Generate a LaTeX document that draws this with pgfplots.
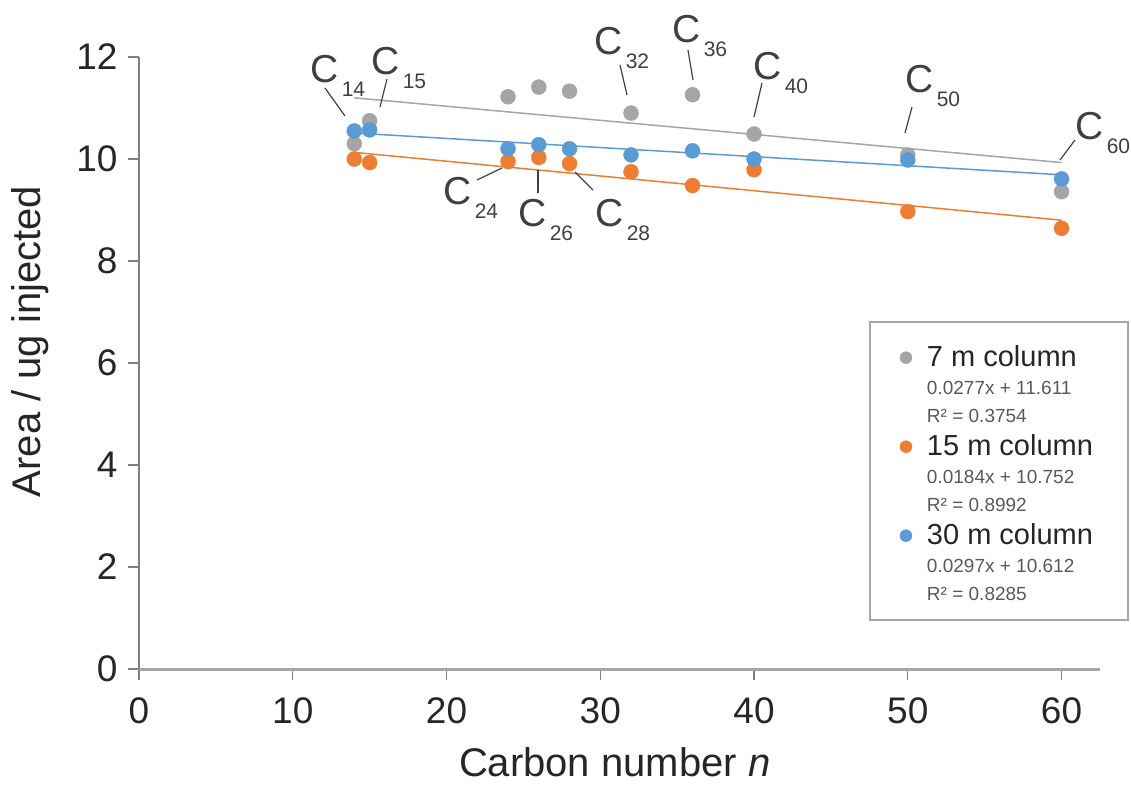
\documentclass[border=0pt]{standalone}
\usepackage{pgfplots}
\pgfplotsset{compat=1.18}
\usepackage{fontspec}
\setmainfont{Liberation Sans}

\definecolor{sevenm}{HTML}{A5A5A5}
\definecolor{fifteenm}{HTML}{ED7D31}
\definecolor{thirtym}{HTML}{5B9BD5}
\definecolor{axisgray}{HTML}{A6A6A6}
\definecolor{labgray}{HTML}{404040}
\definecolor{eqgray}{HTML}{595959}

% carbon-number label: big C with lowered number
\newcommand{\Clab}[1]{{\fontsize{39}{39}\selectfont C}\kern3pt\raisebox{-14pt}{\fontsize{21}{21}\selectfont #1}}

\begin{document}
\begin{tikzpicture}
% page = 1131 x 785 pixels, 1pt per pixel
\begin{scope}[shift={(-139pt,669pt)},x=1pt,y=-1pt]
\useasboundingbox (0,0) rectangle (1131,785);
\end{scope}
\begin{axis}[
    at={(0,0)}, anchor=south west,
    scale only axis, width=961pt, height=612pt,
    xmin=0, xmax=62.5, ymin=0, ymax=12,
    axis lines=left, axis line style={-},
    x axis line style={line width=3pt, color=axisgray},
    y axis line style={line width=1.3pt, color=gray},
    xtick={0,10,...,60}, ytick={0,2,...,12},
    tick align=outside, major tick length=11pt,
    tick style={line width=1.3pt, color=gray},
    ticklabel style={font=\fontsize{37}{40}\selectfont, text=black!85},
    xticklabel style={yshift=-14pt},
    yticklabel style={xshift=-7pt},
    /pgf/number format/assume math mode=true,
    xlabel={Carbon number \textit{n}},
    ylabel={Area / ug injected},
    label style={font=\fontsize{40}{44}\selectfont, text=black!85},
    xlabel style={at={(axis description cs:0.495,-0.176)}, anchor=base},
    ylabel style={at={(axis description cs:-0.113,0.535)}, anchor=center},
    legend style={at={(axis description cs:0.789,0.536)}, anchor=north west,
        draw=none, fill=none, row sep=0pt, column sep=15pt, inner sep=0pt,
        nodes={inner sep=0pt}},
    legend cell align=left,
]
% trend lines
\addplot[forget plot, sevenm, line width=1.5pt] coordinates {(14,11.20) (60,9.93)};
\addplot[forget plot, thirtym, line width=1.5pt] coordinates {(14,10.51) (60,9.69)};
\addplot[forget plot, fifteenm, line width=1.5pt] coordinates {(14,10.13) (60,8.80)};

% 7 m column
\addplot[forget plot, only marks, mark=*, mark size=7.5pt, sevenm] coordinates {
(14,10.30) (15,10.75) (24,11.22) (26,11.41) (28,11.33)
(32,10.90) (36,11.26) (40,10.49) (50,10.08) (60,9.36)};
% 15 m column
\addplot[forget plot, only marks, mark=*, mark size=7.5pt, fifteenm] coordinates {
(14,10.00) (15,9.93) (24,9.95) (26,10.03) (28,9.91)
(32,9.75) (36,9.48) (40,9.79) (50,8.97) (60,8.64)};
% 30 m column
\addplot[forget plot, only marks, mark=*, mark size=7.5pt, thirtym] coordinates {
(14,10.55) (15,10.57) (24,10.20) (26,10.28) (28,10.20)
(32,10.08) (36,10.16) (40,10.00) (50,9.98) (60,9.61)};

\addlegendimage{only marks, mark=*, mark size=6pt, sevenm}
\addlegendentry[text height=25pt, text depth=8pt]{\fontsize{29}{29}\selectfont\color{black!85}7 m column}
\addlegendimage{empty legend}
\addlegendentry[text height=20pt, text depth=7pt]{\fontsize{19}{19}\selectfont\color{eqgray}0.0277x + 11.611}
\addlegendimage{empty legend}
\addlegendentry[text height=21pt, text depth=8pt]{\fontsize{19}{19}\selectfont\color{eqgray}R² = 0.3754}
\addlegendimage{only marks, mark=*, mark size=6pt, fifteenm}
\addlegendentry[text height=25pt, text depth=8pt]{\fontsize{29}{29}\selectfont\color{black!85}15 m column}
\addlegendimage{empty legend}
\addlegendentry[text height=20pt, text depth=7pt]{\fontsize{19}{19}\selectfont\color{eqgray}0.0184x + 10.752}
\addlegendimage{empty legend}
\addlegendentry[text height=21pt, text depth=8pt]{\fontsize{19}{19}\selectfont\color{eqgray}R² = 0.8992}
\addlegendimage{only marks, mark=*, mark size=6pt, thirtym}
\addlegendentry[text height=25pt, text depth=8pt]{\fontsize{29}{29}\selectfont\color{black!85}30 m column}
\addlegendimage{empty legend}
\addlegendentry[text height=20pt, text depth=7pt]{\fontsize{19}{19}\selectfont\color{eqgray}0.0297x + 10.612}
\addlegendimage{empty legend}
\addlegendentry[text height=21pt, text depth=8pt]{\fontsize{19}{19}\selectfont\color{eqgray}R² = 0.8285}
\end{axis}

% labels, leader lines and legend frame, in pixel coordinates
\begin{scope}[shift={(-139pt,669pt)},x=1pt,y=-1pt]
\draw[axisgray, line width=1.5pt] (870,322) rectangle (1128,620);
\begin{scope}[labgray, line width=1.2pt]
\node[anchor=base west, inner sep=0pt, text=labgray] at (310,83) {\Clab{14}};
\draw (325,88) -- (345,116);
\node[anchor=base west, inner sep=0pt, text=labgray] at (371,75) {\Clab{15}};
\draw (387,79) -- (380,107);
\node[anchor=base west, inner sep=0pt, text=labgray] at (443,205) {\Clab{24}};
\draw (477,180) -- (502,168);
\node[anchor=base west, inner sep=0pt, text=labgray] at (518,227) {\Clab{26}};
\draw (538,170) -- (538,193);
\node[anchor=base west, inner sep=0pt, text=labgray] at (595,227) {\Clab{28}};
\draw (575,172) -- (593,190);
\node[anchor=base west, inner sep=0pt, text=labgray] at (594,55) {\Clab{32}};
\draw (620,65) -- (627,95);
\node[anchor=base west, inner sep=0pt, text=labgray] at (672,43) {\Clab{36}};
\draw (688,50) -- (693,80);
\node[anchor=base west, inner sep=0pt, text=labgray] at (753,80) {\Clab{40}};
\draw (762,83) -- (754,117);
\node[anchor=base west, inner sep=0pt, text=labgray] at (905,93) {\Clab{50}};
\draw (912,107) -- (905,133);
\node[anchor=base west, inner sep=0pt, text=labgray] at (1075,140) {\Clab{60}};
\draw (1075,140) -- (1060,160);
\end{scope}
\end{scope}
\end{tikzpicture}
\end{document}
